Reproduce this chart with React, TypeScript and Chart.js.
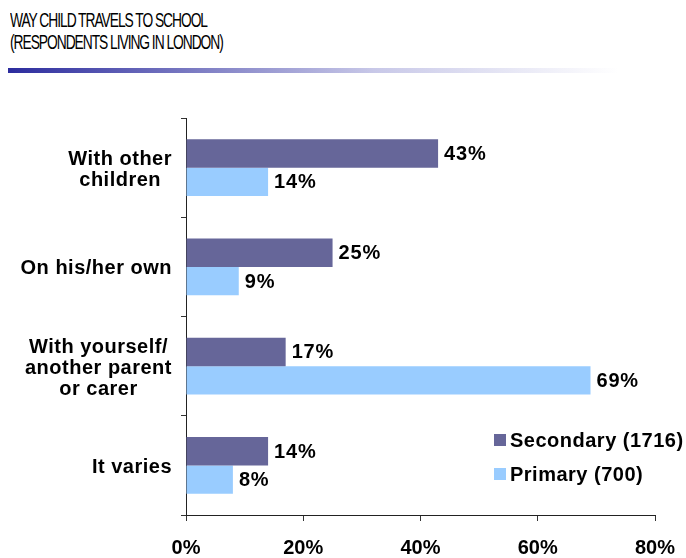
import React, { useEffect, useRef } from "react";
import { Chart, registerables } from "chart.js";
Chart.register(...registerables);

const categories: string[][] = [
  ["With other", "children"],
  ["On his/her own"],
  ["With yourself/", "another parent", "or carer"],
  ["It varies"],
];
const secondaryValues = [43, 25, 17, 14];
const primaryValues = [14, 9, 69, 8];
const seriesNames = ["Secondary (1716)", "Primary (700)"];
const seriesColors = ["#666699", "#99CCFF"];
const xMin = 0;
const xMax = 80;
const xStep = 20;
const titleLines = ["WAY CHILD TRAVELS TO SCHOOL", "(RESPONDENTS LIVING IN LONDON)"];

const FONT = '"Liberation Sans", Arial, Helvetica, sans-serif';

const labelsPlugin = {
  id: "customLabels",
  afterDraw(chart: any) {
    const ctx = chart.ctx as any;
    const yScale = chart.scales.y;
    const area = chart.chartArea;
    ctx.save();
    ctx.fillStyle = "#000";
    ctx.font = `bold 20px ${FONT}`;
    ctx.textBaseline = "middle";

    // category labels: block right-aligned, lines centered
    ctx.letterSpacing = "0.5px";
    ctx.textAlign = "center";
    const lh = 21;
    categories.forEach((lines, i) => {
      const yc = yScale.getPixelForValue(i) + 2;
      const maxW = Math.max(...lines.map((l) => ctx.measureText(l).width));
      const cx = area.left - 14 - maxW / 2;
      lines.forEach((l, j) => {
        ctx.fillText(l, cx, yc + (j - (lines.length - 1) / 2) * lh);
      });
    });

    // data labels
    ctx.letterSpacing = "0.8px";
    ctx.textAlign = "left";
    chart.data.datasets.forEach((ds: any, di: number) => {
      const meta = chart.getDatasetMeta(di);
      meta.data.forEach((bar: any, i: number) => {
        ctx.fillText(`${ds.data[i]}%`, bar.x + 6, bar.y + 1);
      });
    });

    // legend
    ctx.letterSpacing = "0.5px";
    const legendX = 494;
    const legendYs = [440, 474];
    chart.data.datasets.forEach((ds: any, di: number) => {
      const y = legendYs[di];
      ctx.fillStyle = ds.backgroundColor;
      ctx.fillRect(legendX, y - 6, 12, 12);
      ctx.fillStyle = "#000";
      ctx.fillText(ds.label, legendX + 16, y + 1);
    });
    ctx.restore();
    ctx.letterSpacing = "0px";
  },
};

export default function App() {
  const ref = useRef<HTMLCanvasElement>(null);
  useEffect(() => {
    if (!ref.current) return;
    const chart = new Chart(ref.current, {
      type: "bar",
      data: {
        labels: categories.map((c) => c.join(" ")),
        datasets: [
          {
            label: seriesNames[0],
            data: secondaryValues,
            backgroundColor: seriesColors[0],
            barPercentage: 1,
            categoryPercentage: 0.574,
            borderWidth: 0,
          },
          {
            label: seriesNames[1],
            data: primaryValues,
            backgroundColor: seriesColors[1],
            barPercentage: 1,
            categoryPercentage: 0.574,
            borderWidth: 0,
          },
        ],
      },
      options: {
        indexAxis: "y",
        responsive: false,
        animation: false,
        devicePixelRatio: 1,
        layout: { padding: { top: 118, right: 31, left: 0, bottom: 0 } },
        plugins: { legend: { display: false }, tooltip: { enabled: false } },
        scales: {
          x: {
            min: xMin,
            max: xMax,
            ticks: {
              stepSize: xStep,
              callback: (v: any) => `${v}%`,
              color: "#000",
              font: { family: FONT, size: 20, weight: "bold" },
              padding: 15,
              maxRotation: 0,
            },
            grid: { drawOnChartArea: false, drawTicks: true, tickLength: 6, color: "#333" },
            border: { display: true, color: "#222", width: 1 },
            afterFit: (s: any) => {
              s.height = 43;
              s.paddingLeft = 0;
              s.paddingRight = 0;
            },
          },
          y: {
            ticks: { display: false },
            grid: { offset: true, drawOnChartArea: false, drawTicks: true, tickLength: 5, color: "#333" },
            border: { display: true, color: "#222", width: 1 },
            afterFit: (s: any) => {
              s.width = 186;
              s.paddingTop = 0;
              s.paddingBottom = 0;
            },
          },
        },
      },
      plugins: [labelsPlugin],
    });
    return () => chart.destroy();
  }, []);

  return (
    <div style={{ position: "absolute", left: 0, top: 0, width: 686, height: 558, background: "#fff", overflow: "hidden" }}>
      <div
        style={{
          position: "absolute",
          left: 10,
          top: 9,
          fontFamily: FONT,
          fontSize: 20,
          lineHeight: "22px",
          letterSpacing: "-1.5px",
          transform: "scaleX(0.69)",
          transformOrigin: "left top",
          whiteSpace: "nowrap",
          color: "#000",
        }}
      >
        {titleLines.map((t) => (
          <div key={t}>{t}</div>
        ))}
      </div>
      <div
        style={{
          position: "absolute",
          left: 8,
          top: 68,
          width: 610,
          height: 5,
          background: "linear-gradient(to right, #2c2c9e 0%, #7a7ac2 30%, #c8c8e8 60%, #ffffff 100%)",
        }}
      />
      <canvas ref={ref} width={686} height={558} style={{ position: "absolute", left: 0, top: 0, display: "block" }} />
    </div>
  );
}
